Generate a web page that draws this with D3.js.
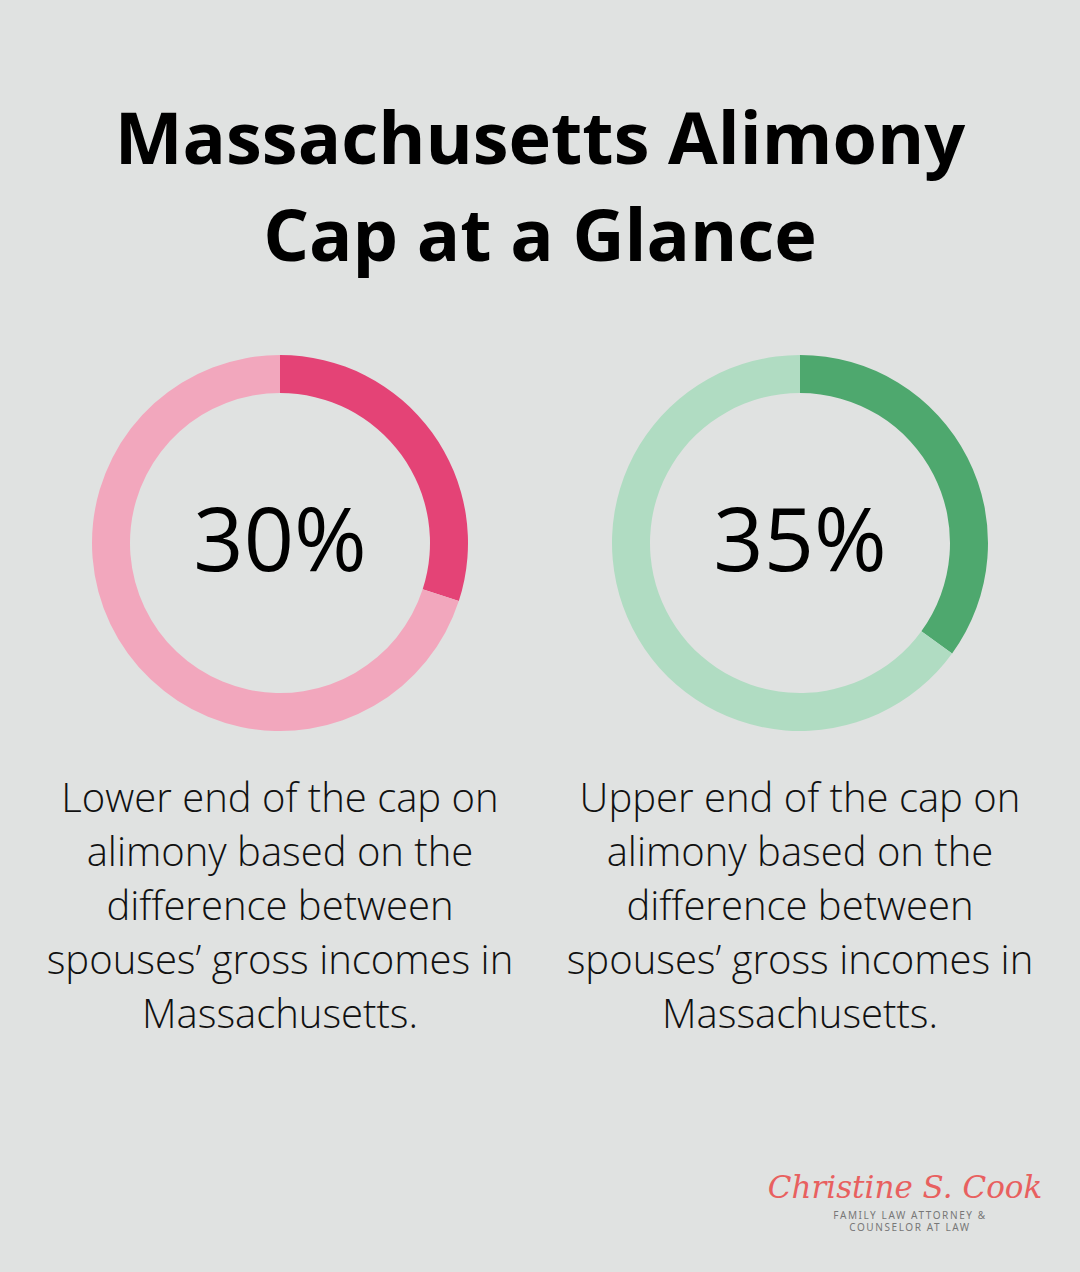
<!DOCTYPE html>
<html>
<head>
<meta charset="utf-8">
<script src="https://cdn.jsdelivr.net/npm/d3@7"></script>
<style>
  body { margin: 0; background: #e0e2e1; }
  svg { display: block; }
</style>
</head>
<body>
<div id="chart"></div>
<script>
// data
const titleLines = ["Massachusetts Alimony", "Cap at a Glance"];
const values = [30, 35];
const labels = ["30%", "35%"];
const darkColors = ["#e44376", "#4ea86e"];
const lightColors = ["#f2a7bd", "#b0dcc2"];
const captions = [
    ["Lower end of the cap on", "alimony based on the", "difference between", "spouses\u2019 gross incomes in", "Massachusetts."],
    ["Upper end of the cap on", "alimony based on the", "difference between", "spouses\u2019 gross incomes in", "Massachusetts."]
];
const logoName = "Christine S. Cook";
const logoSub = ["FAMILY LAW ATTORNEY &", "COUNSELOR AT LAW"];

const width = 1080, height = 1272;
const outerR = 188, innerR = 150;

const svg = d3.select("#chart")
    .append("svg")
    .attr("width", width)
    .attr("height", height);

svg.append("rect")
    .attr("width", width)
    .attr("height", height)
    .attr("fill", "#e0e2e1");

// title
svg.append("g")
    .selectAll("text")
    .data(titleLines)
    .join("text")
    .attr("x", width / 2)
    .attr("y", (d, i) => 164 + i * 97)
    .attr("text-anchor", "middle")
    .attr("font-family", "'Open Sans', sans-serif")
    .attr("font-weight", 700)
    .attr("font-size", "72px")
    .attr("fill", "#000")
    .text(d => d);

// x positions of the two rings
const x = d3.scalePoint()
    .domain(d3.range(values.length))
    .range([280, 800]);

const arc = d3.arc()
    .innerRadius(innerR)
    .outerRadius(outerR);

const pie = d3.pie().sort(null).value(d => d);

const rings = svg.selectAll(".ring")
    .data(values)
    .join("g")
    .attr("class", "ring")
    .attr("transform", (d, i) => `translate(${x(i)}, 543)`);

rings.selectAll("path")
    .data((d, i) => pie([d, 100 - d]).map(s => ({slice: s, i: i})))
    .join("path")
    .attr("d", d => arc(d.slice))
    .attr("fill", d => d.slice.index === 0 ? darkColors[d.i] : lightColors[d.i]);

rings.append("text")
    .attr("text-anchor", "middle")
    .attr("y", 28)
    .attr("font-family", "'Open Sans', sans-serif")
    .attr("font-size", "88px")
    .attr("fill", "#000")
    .text((d, i) => labels[i]);

// captions
const cap = svg.selectAll(".caption")
    .data(captions)
    .join("text")
    .attr("class", "caption")
    .attr("text-anchor", "middle")
    .attr("font-family", "'Open Sans', sans-serif")
    .attr("font-weight", 300)
    .attr("font-size", "40px")
    .attr("fill", "#111");

cap.selectAll("tspan")
    .data((d, i) => d.map(t => ({t: t, i: i})))
    .join("tspan")
    .attr("x", d => x(d.i))
    .attr("y", (d, j) => 812 + j * 54)
    .text(d => d.t);

// logo
const logo = svg.append("g").attr("transform", "translate(908, 0)");

logo.append("text")
    .attr("x", -3)
    .attr("y", 1198)
    .attr("text-anchor", "middle")
    .attr("font-family", "'DejaVu Serif', serif")
    .attr("font-style", "italic")
    .attr("font-size", "31px")
    .attr("fill", "#e8605f")
    .text(logoName);

logo.selectAll(".sub")
    .data(logoSub)
    .join("text")
    .attr("class", "sub")
    .attr("x", 2)
    .attr("y", (d, i) => 1219 + i * 12)
    .attr("text-anchor", "middle")
    .attr("font-family", "'Noto Sans', sans-serif")
    .attr("font-size", "10px")
    .attr("letter-spacing", "1.6px")
    .attr("fill", "#777")
    .text(d => d);
</script>
</body>
</html>
